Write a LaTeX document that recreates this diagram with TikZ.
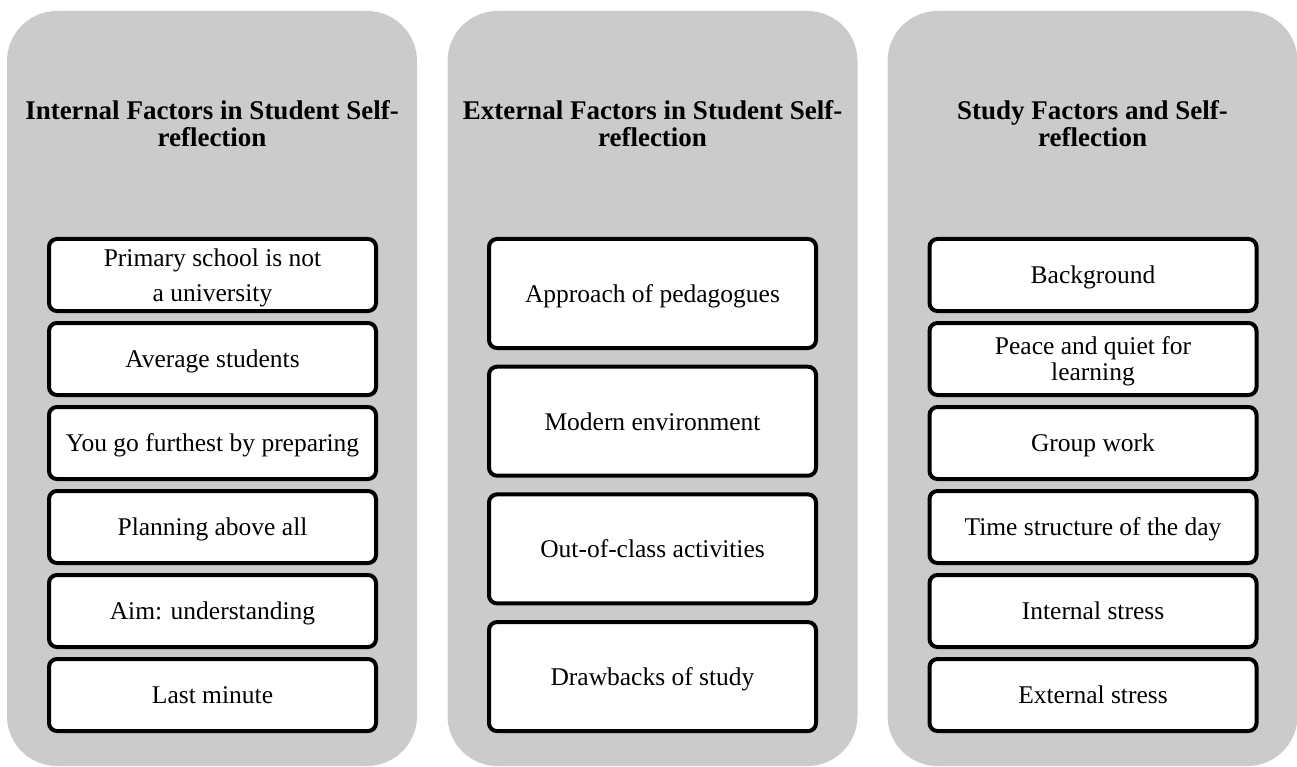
\documentclass[tikz,border=0pt]{standalone}
\usepackage{fontspec}
\setmainfont{Liberation Serif}
\definecolor{panelgray}{RGB}{203,203,203}
\begin{document}
\begin{tikzpicture}[x=1pt,y=-1pt,
  panel/.style={fill=panelgray,draw=none,rounded corners=50pt,minimum width=410pt,minimum height=755pt,inner sep=0pt,outer sep=0pt},
  ptitle/.style={align=center,font=\fontsize{27}{27.5}\selectfont\bfseries,inner sep=0pt,text depth=0pt},
  itembox/.style={draw=black,line width=4pt,fill=white,rounded corners=8pt,minimum width=327pt,inner sep=0pt,text depth=0pt,align=center,font=\fontsize{25.5}{30}\selectfont},
  smallbox/.style={itembox,minimum height=72pt},
  tallbox/.style={itembox,minimum height=109pt}]
\useasboundingbox (0,0) rectangle (1297,767);
% panels
\node[panel] (p1) at (212,388.5) {};
\node[panel] (p2) at (652.5,388.5) {};
\node[panel] (p3) at (1092.5,388.5) {};
% titles
\node[ptitle] (t1) at (212,123.6) {Internal Factors in Student Self-\\reflection};
\node[ptitle] (t2) at (652.5,123.6) {External Factors in Student Self-\\reflection};
\node[ptitle] (t3) at (1092.5,123.6) {Study Factors and Self-\\reflection};
% panel 1
\node[smallbox,font=\fontsize{25.5}{35}\selectfont] (a1) at (212.5,275) {Primary school is not\\a university};
\node[smallbox] (a2) at (212.5,359) {Average students};
\node[smallbox] (a3) at (212.5,443) {You go furthest by preparing};
\node[smallbox] (a4) at (212.5,527) {Planning above all};
\node[smallbox] (a5) at (212.5,611) {Aim: understanding};
\node[smallbox] (a6) at (212.5,695) {Last minute};
% panel 2
\node[tallbox] (b1) at (652.5,293.5) {Approach of pedagogues};
\node[tallbox] (b2) at (652.5,421.2) {Modern environment};
\node[tallbox] (b3) at (652.5,548.9) {Out-of-class activities};
\node[tallbox] (b4) at (652.5,676.6) {Drawbacks of study};
% panel 3
\node[smallbox] (c1) at (1093,275) {Background};
\node[smallbox,font=\fontsize{25.5}{26}\selectfont] (c2) at (1093,359) {Peace and quiet for\\learning};
\node[smallbox] (c3) at (1093,443) {Group work};
\node[smallbox] (c4) at (1093,527) {Time structure of the day};
\node[smallbox] (c5) at (1093,611) {Internal stress};
\node[smallbox] (c6) at (1093,695) {External stress};
\end{tikzpicture}
\end{document}
